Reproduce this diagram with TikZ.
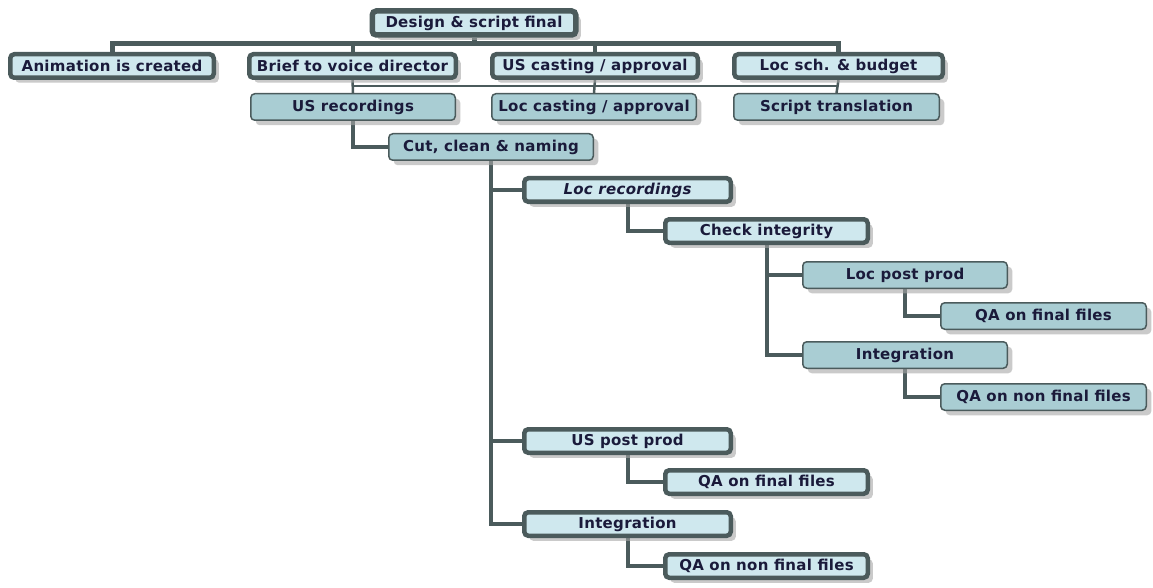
\documentclass[tikz,border=0pt]{standalone}
\usepackage{fontspec}
\setmainfont{DejaVu Sans}
\usetikzlibrary{shadows}
\pgfdeclarelayer{background}
\pgfsetlayers{background,main}
\definecolor{edge}{HTML}{4B5B5C}
\definecolor{lightfill}{HTML}{CFE8EE}
\definecolor{midfill}{HTML}{A9CDD3}
\definecolor{txt}{HTML}{1A1A3A}
\tikzset{
  base/.style={rounded corners=4pt, inner sep=0pt, text=txt,
    font=\fontsize{15}{16}\selectfont\addfontfeatures{LetterSpace=2}\bfseries,
    drop shadow={shadow xshift=5pt, shadow yshift=-5pt, fill=black!35, opacity=0.6}},
  thickbox/.style={base, draw=edge, line width=4.5pt, fill=lightfill,
    minimum width=#1-4.5pt, minimum height=23.5pt},
  thinbox/.style={base, draw=edge, line width=1.5pt, fill=midfill,
    minimum width=#1-1.5pt, minimum height=26.5pt},
  conn/.style={draw=edge, line width=4pt},
  thinconn/.style={draw=edge, line width=2.5pt}
}
\begin{document}
\begin{tikzpicture}[x=1pt,y=-1pt]
\useasboundingbox (0,0) rectangle (1153,588);
\node[thickbox=208, minimum height=24pt, line width=5.5pt] (design) at (474,23) {Design \& script final};
\node[thickbox=208] (anim) at (112,66) {Animation is created};
\node[thickbox=211] (brief) at (352.5,66) {Brief to voice director};
\node[thickbox=210] (uscast) at (595,66) {US casting / approval};
\node[thickbox=213] (locsch) at (838.5,66) {Loc sch. \& budget};
\node[thinbox=206] (usrec) at (353,107) {US recordings};
\node[thinbox=206] (loccast) at (594,107) {Loc casting / approval};
\node[thinbox=207] (scripttr) at (836.5,107) {Script translation};
\node[thinbox=206] (cut) at (491,147) {Cut, clean \& naming};
\node[thickbox=211] (locrec) at (627.5,190) {\itshape Loc recordings};
\node[thickbox=207] (check) at (766.5,231) {Check integrity};
\node[thinbox=206] (locpost) at (905,275) {Loc post prod};
\node[thinbox=207] (qa1) at (1043.5,316) {QA on final files};
\node[thinbox=206] (integR) at (905,355) {Integration};
\node[thinbox=207] (qa2) at (1043.5,397) {QA on non final files};
\node[thickbox=211] (uspost) at (627.5,441) {US post prod};
\node[thickbox=207] (qa3) at (766.5,482) {QA on final files};
\node[thickbox=211] (integB) at (627.5,524) {Integration};
\node[thickbox=207] (qa4) at (766.5,566) {QA on non final files};
\coordinate (bar) at (0,44);
\coordinate (bar2) at (0,86);
\begin{pgfonlayer}{background}
\draw[conn, line width=5pt] (design.south) -- (design.south |- bar);
\draw[conn, line width=5pt] (anim.north) -- (anim.north |- bar) -- (locsch.north |- bar) -- (locsch.north);
\draw[conn] (brief.north) -- (brief.north |- bar);
\draw[conn] (uscast.north) -- (uscast.north |- bar);
\draw[thinconn] (usrec.north |- bar2) -- (scripttr.north |- bar2);
\draw[thinconn] (brief.south) -- (usrec.north);
\draw[thinconn] (uscast.south) -- (loccast.north);
\draw[thinconn] (locsch.south) -- (scripttr.north);
\draw[conn] (usrec.south) |- (cut.west);
\draw[conn] (cut.south) |- (integB.west);
\draw[conn] (cut.south |- locrec.west) -- (locrec.west);
\draw[conn] (cut.south |- uspost.west) -- (uspost.west);
\draw[conn] (locrec.south) |- (check.west);
\draw[conn] (check.south) |- (integR.west);
\draw[conn] (check.south |- locpost.west) -- (locpost.west);
\draw[conn] (locpost.south) |- (qa1.west);
\draw[conn] (integR.south) |- (qa2.west);
\draw[conn] (uspost.south) |- (qa3.west);
\draw[conn] (integB.south) |- (qa4.west);
\end{pgfonlayer}
\end{tikzpicture}
\end{document}
